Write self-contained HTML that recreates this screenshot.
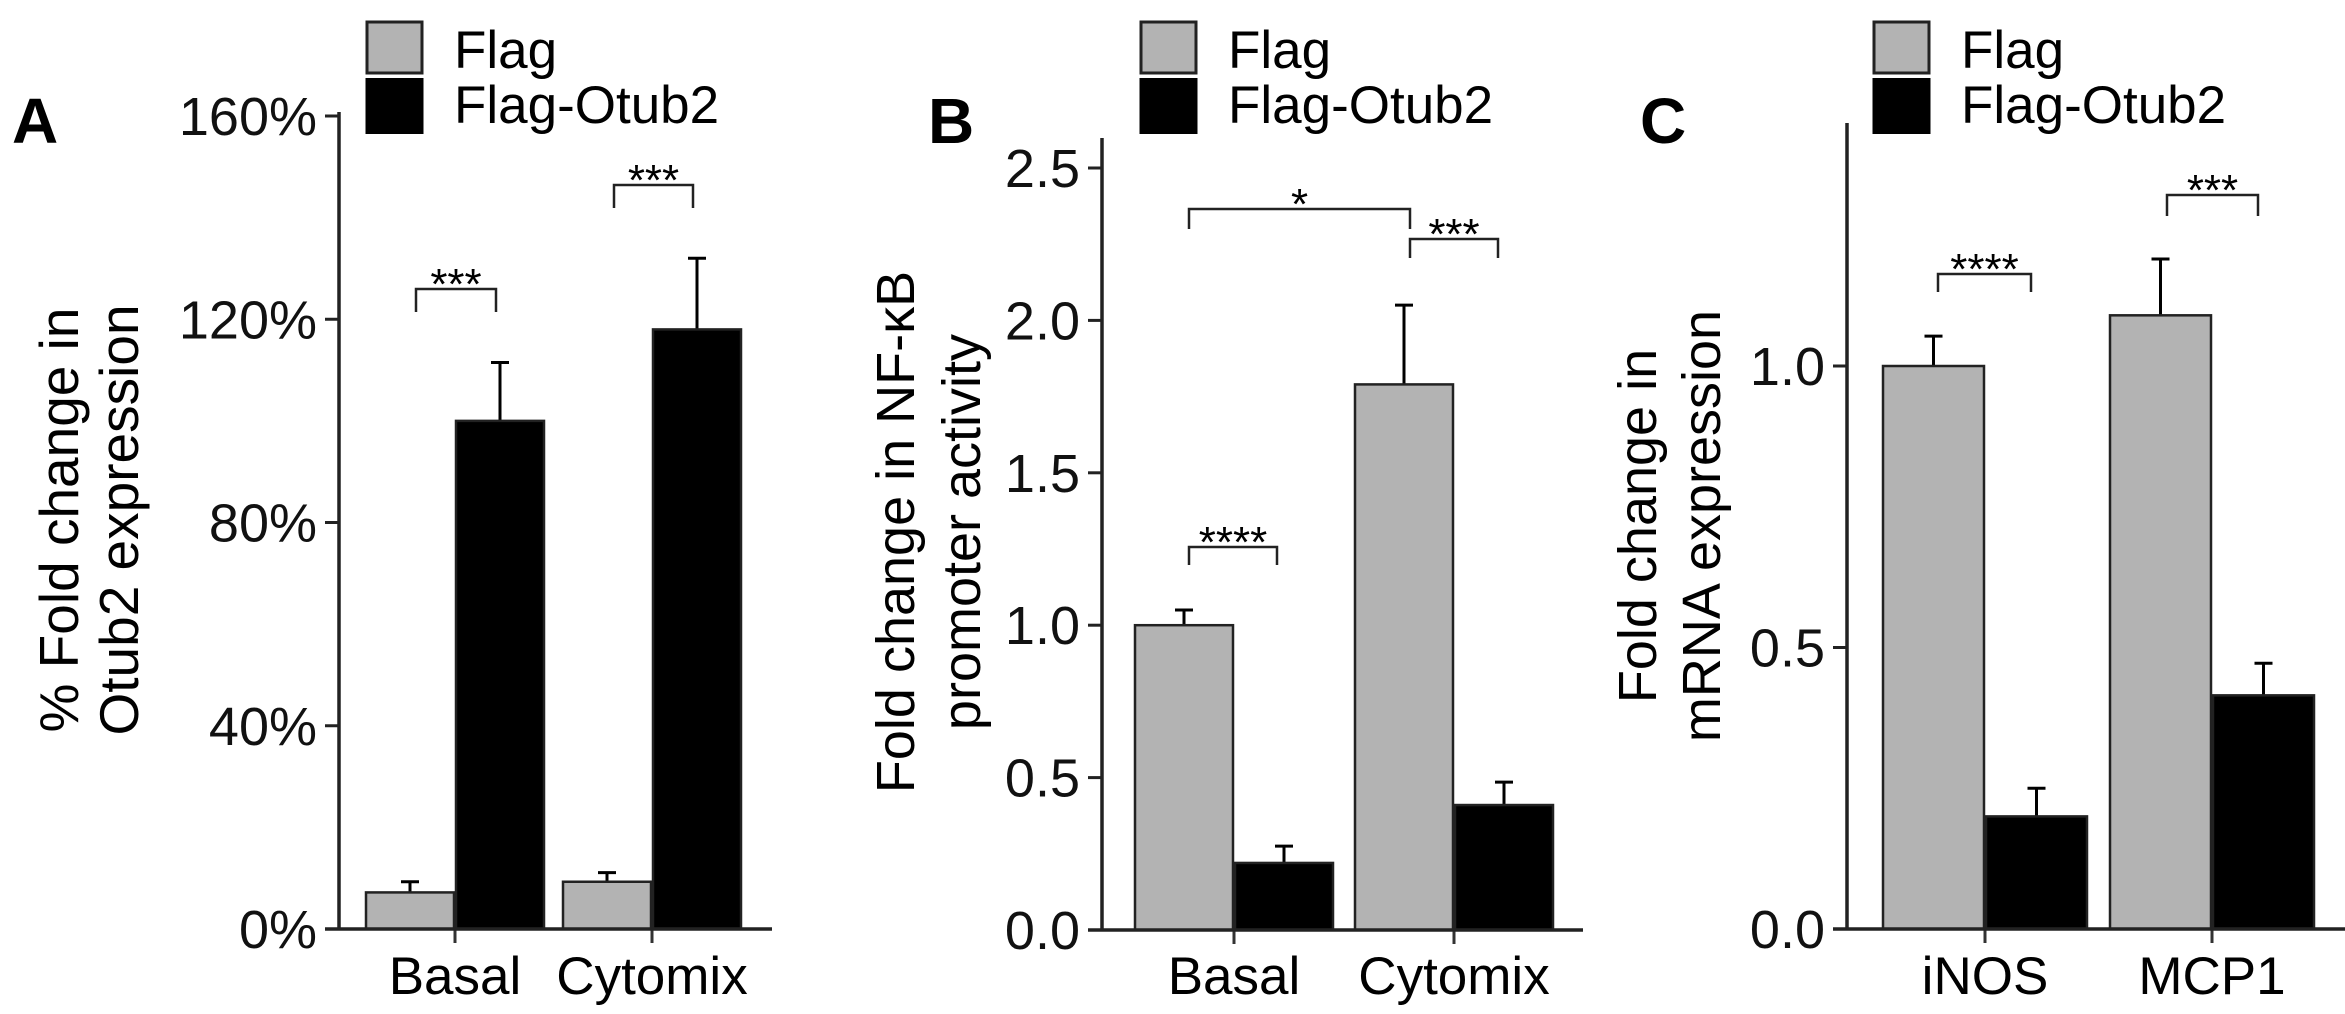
<!DOCTYPE html>
<html><head><meta charset="utf-8"><style>
html,body{margin:0;padding:0;background:#fff}
svg{display:block;font-family:"Liberation Sans",Arial,sans-serif}
</style></head><body>
<svg id="fig" width="2345" height="1014" viewBox="0 0 2345 1014" xmlns="http://www.w3.org/2000/svg"></svg>
<script>
// Panel A data
const catsA = ["Basal", "Cytomix"];
const flagA = [7.2, 9.3];
const flagErrA = [2.1, 1.8];
const otubA = [100, 118];
const otubErrA = [11.5, 14];
const ticksA = [0, 40, 80, 120, 160];
const tickLabelsA = ["0%", "40%", "80%", "120%", "160%"];
// Panel B data
const catsB = ["Basal", "Cytomix"];
const flagB = [1.0, 1.79];
const flagErrB = [0.05, 0.26];
const otubB = [0.22, 0.41];
const otubErrB = [0.055, 0.075];
const ticksB = [0, 0.5, 1.0, 1.5, 2.0, 2.5];
const tickLabelsB = ["0.0", "0.5", "1.0", "1.5", "2.0", "2.5"];
// Panel C data
const catsC = ["iNOS", "MCP1"];
const flagC = [1.0, 1.09];
const flagErrC = [0.053, 0.1];
const otubC = [0.2, 0.415];
const otubErrC = [0.05, 0.057];
const ticksC = [0, 0.5, 1.0];
const tickLabelsC = ["0.0", "0.5", "1.0"];

const NS = "http://www.w3.org/2000/svg";
const svg = document.getElementById('fig');
function mk(tag, attrs, parent, text) {
  const e = document.createElementNS(NS, tag);
  for (const k in attrs) e.setAttribute(k, attrs[k]);
  if (text !== undefined) e.textContent = text;
  (parent || svg).appendChild(e);
  return e;
}

function panel(cfg) {
  const g = mk('g', {});
  
  
  const y = v => cfg.y0 - (v - cfg.vmin) / (cfg.vmax - cfg.vmin) * (cfg.y0 - cfg.yTop);
  const L = mk('text', {x: cfg.letterX, y: 143, 'font-size': 64, 'font-weight': 'bold'}, g, cfg.id);
  
  
  for (let i = 0; i < cfg.cats.length; i++) {
    const gx = cfg.groupX[i];
    const series = [[cfg.flag[i], cfg.flagErr[i], '#b3b3b3', gx - cfg.bw], [cfg.otub[i], cfg.otubErr[i], '#000', gx]];
    series.forEach((s, j) => {
      const top = y(s[0]);
      const cx = s[3] + cfg.bw / 2;
      const el = mk('line', {x1: cx, x2: cx, y1: top, y2: y(s[0] + s[1]), stroke: '#000', 'stroke-width': 3}, g);
      
      
      const cap = mk('line', {x1: cx - 9, x2: cx + 9, y1: y(s[0] + s[1]), y2: y(s[0] + s[1]), stroke: '#000', 'stroke-width': 3}, g);
      
      
      const r = mk('rect', {x: s[3] + 1, y: top, width: cfg.bw - 2, height: cfg.y0 - top, fill: s[2], stroke: '#222', 'stroke-width': 2.5}, g);
      
      
    });
    const t = mk('line', {x1: gx, x2: gx, y1: cfg.y0, y2: cfg.y0 + 14, stroke: '#333', 'stroke-width': 3}, g);
    
    
    const xl = mk('text', {x: gx, y: 994, 'font-size': 53, 'text-anchor': 'middle'}, g, cfg.cats[i]);
    
    
  }
  const ya = mk('line', {x1: cfg.ax, x2: cfg.ax, y1: cfg.axTop, y2: cfg.y0 + 1.5, stroke: '#222', 'stroke-width': 3.5}, g);
  
  
  const xa = mk('line', {x1: cfg.ax - 14, x2: cfg.axRight, y1: cfg.y0, y2: cfg.y0, stroke: '#222', 'stroke-width': 3.5}, g);
  
  
  cfg.ticks.forEach((v, i) => {
    const ty = y(v);
    const tk = mk('line', {x1: cfg.ax - 14, x2: cfg.ax, y1: ty, y2: ty, stroke: '#222', 'stroke-width': 3}, g);
    
    
    const tl = mk('text', {x: cfg.ax - 22, y: ty + 19, 'font-size': 54, 'text-anchor': 'end', fill: '#111'}, g, cfg.tickLabels[i]);
    
    
  });
  const yt = mk('text', {transform: `translate(${cfg.titleX},${cfg.titleY}) rotate(-90)`, 'font-size': cfg.titleSize, 'text-anchor': 'middle'}, g);
  
  
  mk('tspan', {x: 0, y: 0}, yt, cfg.title[0]);
  mk('tspan', {x: 0, y: cfg.titleGap}, yt, cfg.title[1]);
  cfg.brackets.forEach(b => {
    const p = mk('path', {d: `M${b[0]},${b[3]} V${b[2]} H${b[1]} V${b[3]}`, fill: 'none', stroke: '#222', 'stroke-width': 2.5}, g);
    
    
    const s = mk('text', {x: (b[0] + b[1]) / 2, y: b[2] + 10, 'font-size': 44, 'text-anchor': 'middle'}, g, b[4]);
    
    
  });
  const lg = mk('g', {}, g);
  
  
  const r1 = mk('rect', {x: cfg.legX, y: 22, width: 55, height: 51, fill: '#b3b3b3', stroke: '#222', 'stroke-width': 3}, lg);
  
  
  const r2 = mk('rect', {x: cfg.legX - 1.5, y: 78, width: 58, height: 56, fill: '#000'}, lg);
  
  
  const t1 = mk('text', {x: cfg.legX + 87, y: 68, 'font-size': 53}, lg, 'Flag');
  
  
  const t2 = mk('text', {x: cfg.legX + 87, y: 123, 'font-size': 53}, lg, 'Flag-Otub2');
  
  
}

panel({id: 'A', cats: catsA, flag: flagA, flagErr: flagErrA, otub: otubA, otubErr: otubErrA,
  ticks: ticksA, tickLabels: tickLabelsA, vmin: 0, vmax: 160, y0: 929, yTop: 116, axTop: 112,
  ax: 339, axRight: 772, groupX: [455, 652], bw: 90, letterX: 12,
  titleX: 78, titleY: 520, titleGap: 60, titleSize: 55, title: ['% Fold change in', 'Otub2 expression'],
  brackets: [[416, 496, 289, 312, '***'], [614, 693, 185, 208, '***']], legX: 367});
panel({id: 'B', cats: catsB, flag: flagB, flagErr: flagErrB, otub: otubB, otubErr: otubErrB,
  ticks: ticksB, tickLabels: tickLabelsB, vmin: 0, vmax: 2.5, y0: 930, yTop: 168, axTop: 138,
  ax: 1102, axRight: 1583, groupX: [1234, 1454], bw: 100, letterX: 928,
  titleX: 914, titleY: 532, titleGap: 66, titleSize: 54, title: ['Fold change in NF-\u03BAB', 'promoter activity'],
  brackets: [[1189, 1410, 209, 229, '*'], [1410, 1498, 239, 258, '***'], [1189, 1277, 547, 565, '****']], legX: 1141});
panel({id: 'C', cats: catsC, flag: flagC, flagErr: flagErrC, otub: otubC, otubErr: otubErrC,
  ticks: ticksC, tickLabels: tickLabelsC, vmin: 0, vmax: 1.0, y0: 929, yTop: 366, axTop: 123,
  ax: 1847, axRight: 2345, groupX: [1985, 2212], bw: 103, letterX: 1640,
  titleX: 1656, titleY: 526, titleGap: 64, titleSize: 54, title: ['Fold change in', 'mRNA expression'],
  brackets: [[1938, 2031, 274, 292, '****'], [2167, 2258, 195, 216, '***']], legX: 1874});
</script>
</body></html>
